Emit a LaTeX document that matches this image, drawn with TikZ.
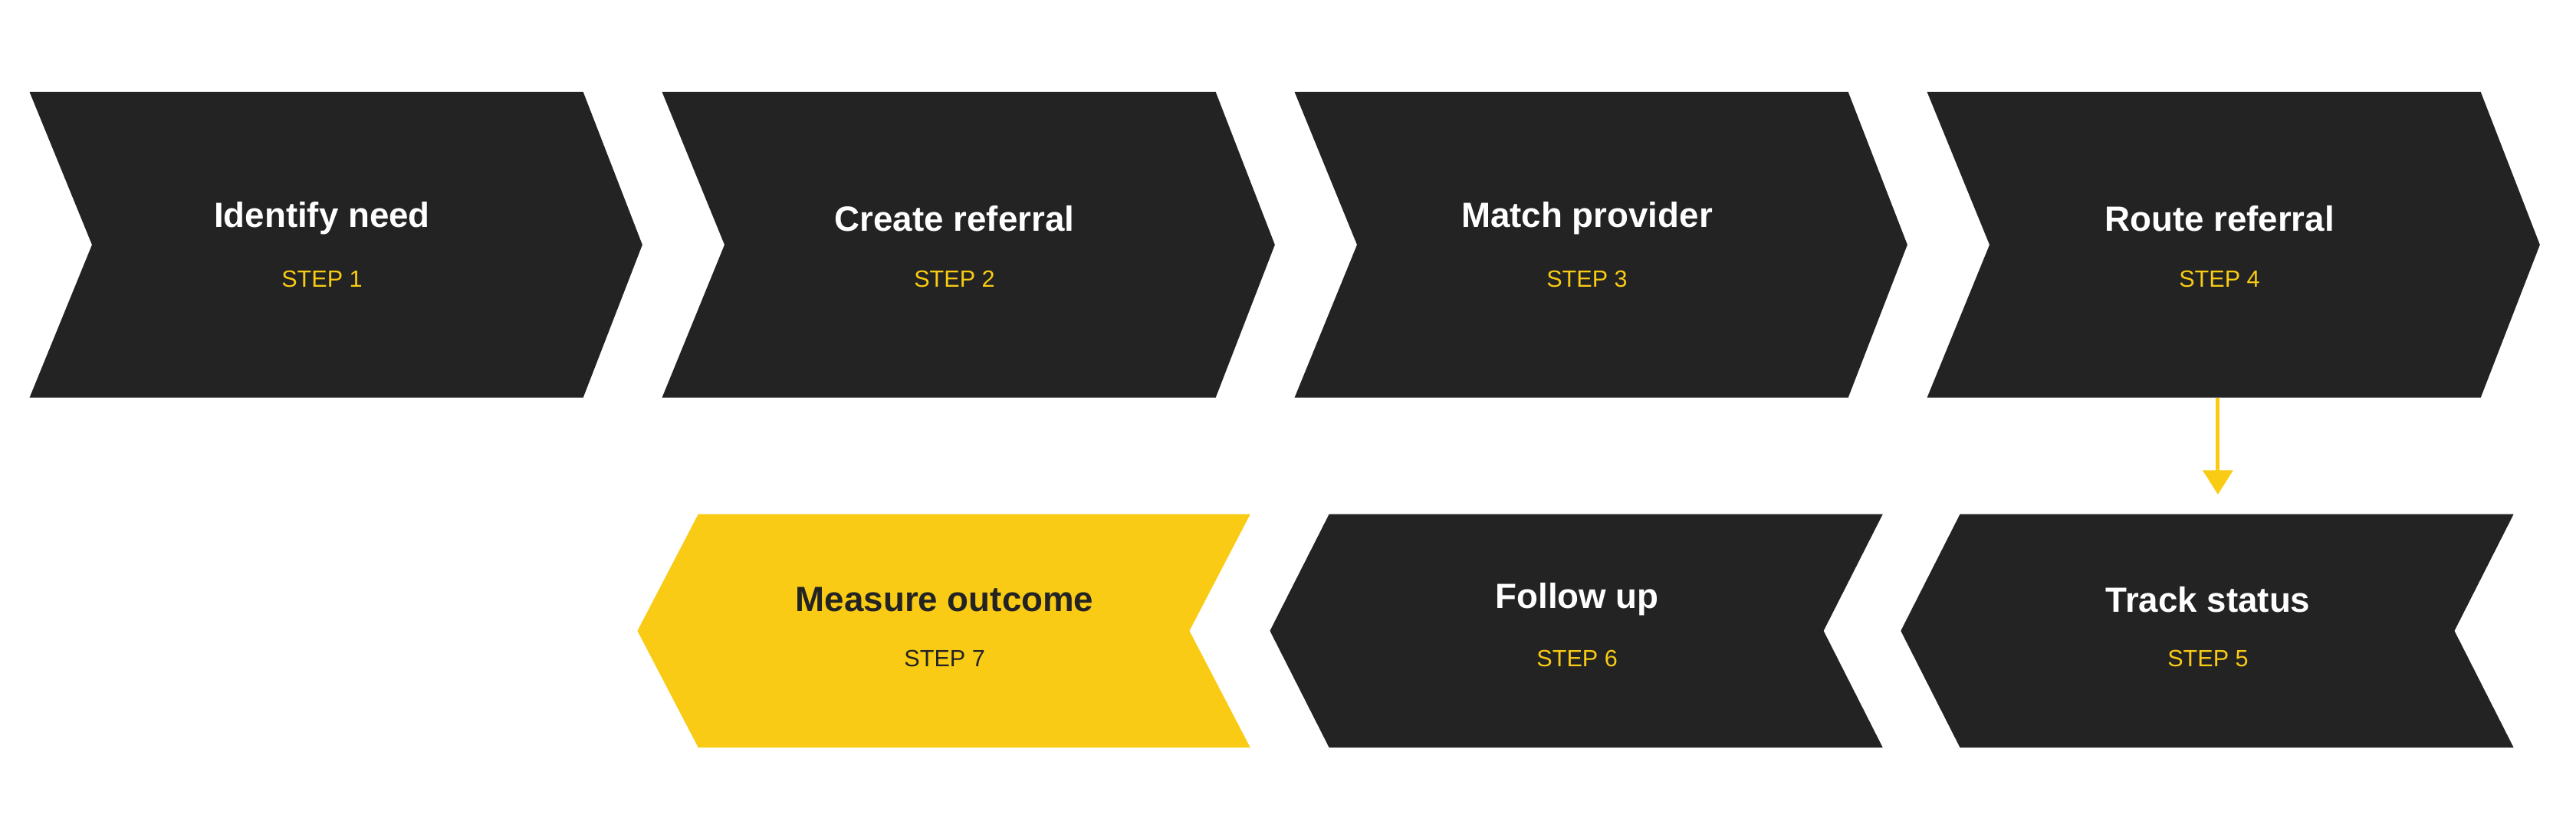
\documentclass[tikz,border=0pt]{standalone}
\usepackage{fontspec}
\setmainfont{Liberation Sans}
\usetikzlibrary{arrows.meta}
\definecolor{chevdark}{HTML}{232323}
\definecolor{chevyellow}{HTML}{F9CB14}
\tikzset{
  title/.style={font=\fontsize{13}{15}\selectfont\bfseries, text=white},
  steplbl/.style={font=\fontsize{8.7}{10}\selectfont, text=chevyellow},
}
\begin{document}
\begin{tikzpicture}[x=0.02143cm, y=-0.02143cm, >=Triangle]
    %% Background
    \useasboundingbox (0,0) rectangle (1568,504);

    %% Top row, pointing right
    \foreach \i/\txt in {0/Identify need, 1/Create referral, 2/Match provider, 3/Route referral} {
      \pgfmathsetmacro{\xo}{18+385*\i}
      \fill[chevdark] (\xo,56) -- ++(337,0) -- ++(36,93) -- ++(-36,93)
        -- ++(-337,0) -- ++(38,-93) -- cycle;
      \node[title] (t\i) at (\xo+178,133) {\txt};
      \pgfmathtruncatemacro{\n}{\i+1}
      \node[steplbl] (s\i) at (\xo+178,170) {STEP \n};
    }

    %% Bottom row, pointing left
    \foreach \i/\txt/\n in {0/Track status/5, 1/Follow up/6} {
      \pgfmathsetmacro{\xo}{1157-384*\i}
      \fill[chevdark] (\xo,384) -- ++(36,-71) -- ++(337,0) -- ++(-36,71)
        -- ++(36,71) -- ++(-337,0) -- cycle;
      \node[title] (b\i) at (\xo+187,365) {\txt};
      \node[steplbl] (c\i) at (\xo+187,401) {STEP \n};
    }
    \fill[chevyellow] (388,384) -- ++(37,-71) -- ++(336,0) -- ++(-37,71)
      -- ++(37,71) -- ++(-336,0) -- cycle;
    \node[title, text=chevdark] (b2) at (575,365) {Measure outcome};
    \node[steplbl, text=chevdark] (c2) at (575,401) {STEP 7};

    %% Connector
    \coordinate (from) at (1350,242);
    \coordinate (to) at (1350,301);
    \draw[chevyellow, line width=1.4pt, -{Triangle[length=9pt, width=11pt]}] (from) -- (to);
\end{tikzpicture}
\end{document}
